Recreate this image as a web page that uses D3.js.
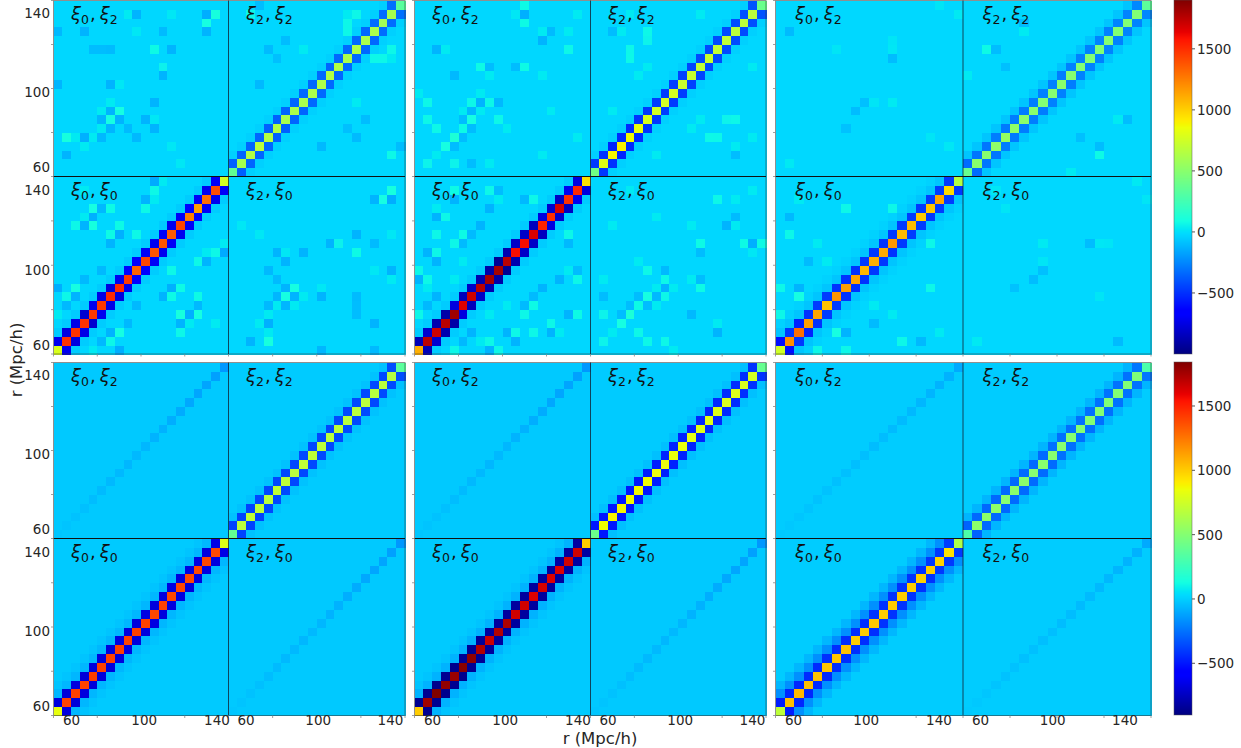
<!DOCTYPE html>
<html><head><meta charset="utf-8">
<script src="https://cdn.jsdelivr.net/npm/d3@7"></script>
<style>html,body{margin:0;padding:0;background:#fff}svg{display:block}text{font-family:"DejaVu Sans";fill:#262626}</style>
</head><body><svg id="c" width="1241" height="748"></svg>
<script>
// ---------- DATA ----------
const rTicks = [60, 100, 140];
const barTicks = [-500, 0, 500, 1000, 1500];
const topDomain = [-1000, 1900];
const botDomain = [-902, 1842];

// main diagonals, lower-left to upper-right
const d00 = [
 [780,1480,1480,1490,1470,1470,1510,1510,1470,1330,1430,1380,1380,1360,1430,1250,1150,1300,1400,760],
 [1100,1750,1700,1750,1820,1660,1700,1750,1800,1800,1750,1590,1600,1680,1540,1500,1680,1500,1520,950],
 [750,1200,1300,1150,1130,1040,1180,1150,1130,1080,1100,1120,1170,1070,1060,1020,1030,1130,970,650],
 [830,1400,1410,1400,1420,1410,1400,1410,1400,1410,1400,1390,1400,1390,1390,1380,1390,1390,1380,800],
 [1000,1760,1850,1800,1780,1820,1800,1720,1660,1720,1730,1650,1650,1620,1640,1620,1620,1650,1650,1000],
 [690,1040,1060,1040,1030,1020,1020,1030,1000,1000,1010,1000,1000,1000,1000,990,1000,980,940,640]
];
const d22 = [
 [360,600,640,680,650,640,620,620,610,620,630,640,640,620,640,620,620,580,600,330],
 [420,800,880,900,870,840,780,760,770,760,720,720,700,720,700,700,680,680,680,390],
 [380,500,500,520,540,520,510,500,480,490,500,490,480,480,470,490,480,470,470,340],
 [390,680,700,690,680,700,690,680,700,690,680,680,690,680,680,680,670,680,660,360],
 [420,860,880,880,870,870,860,850,840,830,830,820,810,810,800,790,790,780,760,400],
 [320,530,530,530,520,520,520,510,520,510,510,510,500,500,500,490,490,490,480,310]
];
// first off-diagonals
const l00 = [
 [-720,-760,-740,-800,-720,-740,-760,-720,-680,-660,-700,-720,-700,-720,-700,-640,-700,-720,-700],
 [-860,-800,-880,-900,-760,-850,-820,-880,-900,-950,-880,-820,-820,-840,-760,-800,-830,-720,-760],
 [-600,-480,-540,-500,-470,-470,-490,-490,-500,-480,-480,-490,-480,-470,-470,-480,-470,-470,-480],
 [-680,-690,-680,-690,-680,-680,-680,-670,-680,-680,-670,-680,-680,-670,-680,-670,-670,-680,-660],
 [-860,-860,-870,-860,-870,-850,-850,-840,-830,-830,-830,-830,-830,-830,-830,-830,-820,-820,-820],
 [-480,-450,-450,-440,-440,-430,-430,-430,-430,-430,-420,-420,-420,-420,-420,-420,-410,-410,-400]
];
const l22 = [
 [-360,-350,-350,-350,-360,-360,-350,-350,-340,-340,-340,-350,-340,-340,-340,-340,-330,-330,-320],
 [-480,-500,-540,-520,-520,-500,-480,-470,-470,-460,-450,-440,-430,-430,-420,-420,-420,-410,-400],
 [-330,-300,-300,-280,-290,-280,-280,-280,-270,-270,-280,-270,-270,-270,-260,-270,-260,-260,-250],
 [-380,-380,-380,-370,-370,-370,-370,-370,-370,-370,-370,-370,-360,-360,-360,-360,-360,-360,-350],
 [-500,-510,-510,-500,-490,-490,-480,-480,-470,-470,-460,-460,-450,-450,-440,-440,-430,-430,-420],
 [-290,-280,-280,-280,-270,-270,-270,-270,-270,-260,-260,-260,-260,-260,-260,-250,-250,-250,-240]
];
// second and third off-diagonal levels
const lag2of00 = [-55,-55,-75,-65,-75,-170];
const lag3of00 = [-25,-25,-40,-30,-30,-65];
const lag2of22 = [-45,-45,-75,-35,-40,-70];
// background levels
const base00 = [-25,-25,-25,-15,-15,-8];
const base22 = [-25,-25,-25,-12,-12,-8];
const base02 = [-25,-25,-22,-18,-18,-8];
// diagonal of the 0-2 block in the bottom row, lower-left to upper-right
const d02 = [
 [-25,-30,-35,-40,-50,-55,-60,-60,-65,-60,-65,-75,-80,-90,-95,-105,-110,-115,-125,-150],
 [-25,-30,-35,-40,-50,-55,-60,-60,-65,-60,-65,-75,-80,-90,-95,-105,-110,-115,-125,-150],
 [-15,-20,-25,-30,-35,-35,-40,-40,-45,-45,-50,-50,-55,-55,-60,-65,-70,-75,-80,-100]
];
// individually readable cells: [column, row from top, value]
const cells02 = [
 [[8,1,30],[9,1,-125],[13,1,20],[17,1,-140],[18,1,100],[17,2,85],[0,3,-110],[3,3,-125],[9,3,20],[12,3,-105],[17,3,-125],[4,5,-100],[5,5,-100],[6,5,-105],[11,5,75],[13,5,-125],[12,7,50],[12,8,-125],[0,9,-120],[6,9,-125],[7,9,20],[11,11,-125],[6,11,30],[5,12,30],[6,12,-125],[7,12,85],[5,13,-120],[6,13,85],[7,13,-125],[10,13,-125],[11,13,20],[5,14,30],[6,14,-120],[8,14,-105],[11,14,-125],[1,15,100],[2,15,30],[3,15,-135],[4,15,30],[5,15,-110],[9,15,-110],[3,16,30],[1,17,-125],[13,16,20],[14,18,20]],
 [[12,0,75],[12,1,-135],[11,1,20],[12,2,75],[18,1,30],[14,3,30],[15,3,-105],[17,3,30],[14,4,-125],[2,5,-125],[3,5,30],[17,5,65],[7,7,75],[8,7,-100],[12,7,75],[11,7,-100],[4,8,-110],[8,8,30],[14,8,30],[0,10,30],[7,10,30],[6,11,65],[7,11,-125],[8,11,65],[9,11,-110],[1,11,65],[5,12,30],[6,12,-110],[7,12,30],[15,12,30],[1,13,65],[5,13,-100],[6,13,85],[9,13,65],[2,14,65],[5,14,75],[6,14,-100],[10,14,30],[4,15,125],[5,15,-100],[18,15,30],[3,16,85],[4,16,-100],[2,17,30],[14,17,30],[4,18,55],[1,18,55],[8,18,30],[6,18,-100]],
 [[19,1,25],[17,0,15],[1,3,-105],[12,11,30],[10,11,15],[9,11,-90],[8,12,-100],[12,4,15],[6,5,15],[12,5,20],[12,6,-100],[1,18,25],[7,14,-85],[16,15,15],[18,16,20]],
 [],[],[]
];
const cells00 = [
 [[4,3,85],[5,3,-110],[6,3,30],[2,5,30],[3,5,-120],[4,5,75],[7,5,70],[6,6,65],[7,6,-110],[9,6,30],[4,4,-120],[3,4,30],[11,1,75],[15,1,75],[18,4,55],[19,7,30],[18,8,70],[17,8,30],[19,8,-150],[7,9,70],[16,9,70],[17,9,-125],[6,10,70],[13,10,70],[5,10,-110],[5,11,70],[3,11,-110],[0,12,-160],[2,12,70],[10,12,70],[13,12,-135],[14,12,75],[1,13,75],[2,13,-135],[9,13,70],[13,13,75],[12,13,-125],[16,13,75],[1,14,-135],[8,14,100],[0,15,30],[14,15,100],[15,15,-135],[16,15,85],[0,16,75],[14,16,-125],[18,16,30],[7,17,85],[6,17,-125],[14,17,65],[3,18,-125],[4,18,30],[5,18,-110],[6,18,65],[7,19,-140],[3,19,75],[4,19,30]],
 [[8,1,70],[9,1,-100],[9,2,30],[12,2,-125],[13,2,65],[14,2,30],[2,3,30],[8,3,-125],[2,4,-125],[3,4,65],[12,4,65],[7,5,-125],[5,6,65],[6,6,-125],[2,6,30],[4,7,55],[5,7,-110],[15,7,65],[14,7,-100],[17,7,-110],[1,8,-100],[2,8,65],[2,9,-125],[5,9,30],[0,10,65],[0,11,-125],[4,11,30],[18,11,65],[17,10,30],[2,13,-110],[3,13,65],[13,13,-105],[2,14,65],[12,14,-105],[13,14,75],[0,15,65],[2,15,-125],[12,15,65],[18,15,75],[17,15,-125],[5,16,65],[6,16,85],[4,17,-125],[5,17,75],[6,17,-125],[10,17,-125],[11,17,65],[13,17,65],[15,17,-125],[3,18,-110],[4,18,65],[5,18,-110],[8,18,70],[7,18,30],[11,18,-125],[8,19,-125],[9,19,65]],
 [[7,3,65],[12,3,65],[1,6,65],[0,12,65],[2,13,85],[0,15,65],[6,17,85],[7,17,-125],[4,19,65],[7,19,65],[2,19,-125],[10,16,-105],[16,7,65],[13,18,65],[15,18,-110],[17,17,30],[12,10,30],[10,14,30],[12,15,30],[14,8,30]],
 [[3,16,-40],[8,12,-40]],
 [[10,12,20],[7,9,10],[3,15,-70],[4,16,-55]],
 []
];
const cells22 = [
 [[13,1,30],[13,2,65],[18,5,65],[16,6,65],[18,17,70],[19,16,-100],[10,16,-110],[15,13,-100],[14,15,-105],[14,11,30],[13,14,-90]],
 [[4,5,65],[6,3,65],[2,3,-100],[3,3,30],[15,13,55],[13,15,70],[11,14,30],[2,12,30],[5,8,30],[6,7,30],[16,16,30],[18,15,30],[16,17,-100],[7,17,30],[12,1,30]],
 [[6,3,35],[2,5,65],[3,5,-100],[14,17,75],[16,13,30],[17,13,-100],[0,8,30],[14,16,-100],[12,15,-90]],
 [],[],[]
];
// ---------- LAYOUT ----------
const columns = [[53.5,228.5,405],[414.5,590.5,766],[775.5,963,1151]];
const rowsY = [[0.5,176.5,354],[362.5,538.5,715.5]];
const barRows = [[0,354,topDomain],[362,715,botDomain]];
const jet = d => {
  const r = d3.scaleLinear().domain([0,.35,.66,.89,1]).range([0,0,255,255,128]).clamp(true);
  const g = d3.scaleLinear().domain([0,.125,.375,.64,.91,1]).range([0,0,255,255,0,0]).clamp(true);
  const b = d3.scaleLinear().domain([0,.11,.34,.65,1]).range([128,255,255,0,0]).clamp(true);
  const t = d3.scaleLinear().domain(d).range([0,1]);
  return v => { const u = t(v); return `rgb(${r(u)|0},${g(u)|0},${b(u)|0})`; };
};
const svg = d3.select('#c');
const blur = svg.append('defs').append('filter').attr('id','soft')
  .attr('x','-2%').attr('y','-2%').attr('width','104%').attr('height','104%');
blur.append('feGaussianBlur').attr('stdDeviation',0.45);

function matrixFor(p){
  const m = d3.range(40).map(() => d3.range(40).map(() => 0));
  for(let i=0;i<20;i++) for(let j=0;j<20;j++){
    m[i][j] = base00[p]; m[i+20][j+20] = base22[p];
    m[i][j+20] = base02[p]; m[i+20][j] = base02[p];
  }
  const put = (list, ox, oy, mirror) => list.forEach(([c,r,v]) => {
    const j = 19-r; m[c+ox][j+oy] = v;
    if(mirror==='sym') m[j+ox][c+oy] = v;
    if(mirror==='tr') m[j+20][c] = v;
  });
  put(cells00[p],0,0,'sym'); put(cells22[p],20,20,'sym'); put(cells02[p],0,20,'tr');
  for(let i=0;i<20;i++){
    if(i<18){ m[i][i+2]=m[i+2][i]=lag2of00[p]; m[i+20][i+22]=m[i+22][i+20]=lag2of22[p]; }
    if(i<17){ m[i][i+3]=m[i+3][i]=lag3of00[p]; }
    if(i<19){ m[i][i+1]=m[i+1][i]=l00[p][i]; m[i+20][i+21]=m[i+21][i+20]=l22[p][i]; }
    m[i][i]=d00[p][i]; m[i+20][i+20]=d22[p][i];
    if(p>2){ m[i][i+20]=d02[p-3][i]; m[i+20][i]=d02[p-3][i]; }
  }
  return m;
}
const labels = [['0','2',0,0],['2','2',1,0],['0','0',0,1],['2','0',1,1]];

rowsY.forEach((ry,ri) => {
  const color = jet(barRows[ri][2]);
  columns.forEach((cx,ci) => {
    const p = ri*3+ci, m = matrixFor(p);
    const x = d3.scaleLinear().domain([0,20,40]).range([cx[0],cx[1],cx[2]]);
    const y = d3.scaleLinear().domain([0,20,40]).range([ry[2],ry[1],ry[0]]);
    const cells = [];
    m.forEach((col,i) => col.forEach((v,j) => cells.push({i,j,v})));
    svg.append('g').attr('filter','url(#soft)').attr('shape-rendering','crispEdges').selectAll('rect').data(cells).join('rect')
      .attr('x',d=>x(d.i)).attr('y',d=>y(d.j+1))
      .attr('width',d=>x(d.i+1)-x(d.i)+.5).attr('height',d=>y(d.j)-y(d.j+1)+.5)
      .attr('fill',d=>color(d.v));
    svg.append('rect').attr('x',cx[0]).attr('y',ry[0]).attr('width',cx[2]-cx[0]).attr('height',ry[2]-ry[0])
      .attr('fill','none').attr('stroke','#333').attr('stroke-opacity',.55);
    svg.append('line').attr('x1',cx[1]).attr('x2',cx[1]).attr('y1',ry[0]).attr('y2',ry[2]).attr('stroke','#123').attr('stroke-opacity',.8);
    svg.append('line').attr('x1',cx[0]).attr('x2',cx[2]).attr('y1',ry[1]).attr('y2',ry[1]).attr('stroke','#111');
    d3.range(0,41,5).forEach(k => {
      svg.append('line').attr('x1',x(k)).attr('x2',x(k)).attr('y1',ry[2]).attr('y2',ry[2]+2.5).attr('stroke','#888').attr('stroke-width',.8);
      svg.append('line').attr('x1',cx[0]).attr('x2',cx[0]-2.5).attr('y1',y(k)).attr('y2',y(k)).attr('stroke','#888').attr('stroke-width',.8);
    });
    labels.forEach(([a,b,bx,by]) => {
      const t = svg.append('text').attr('x',x(bx*20)+(ci===2?19.5:17.5)).attr('y',(by?ry[1]:ry[0])+19).attr('font-size',18).style('fill','#111');
      t.append('tspan').attr('font-style','italic').text('ξ');
      t.append('tspan').attr('font-size',12.5).attr('dy',4).text(a);
      t.append('tspan').attr('dy',-4).attr('dx',1).text(',');
      t.append('tspan').attr('font-style','italic').attr('dx',4).text('ξ');
      t.append('tspan').attr('font-size',12.5).attr('dy',4).text(b);
    });
    if(ri===1){
      [0,1].forEach(b => {
        const l = d3.scaleLinear().domain([60,140]).range([x(b*20)+(b?17.5:18),x(b*20)+(b?162:163.5)]);
        rTicks.forEach(r => svg.append('text').attr('x',l(r)).attr('y',724.5).attr('text-anchor','middle').attr('font-size',13.5).text(r));
      });
    }
    if(ci===0){
      [0,1].forEach(b => {
        const bottom = b ? ry[1] : ry[2];
        const l = d3.scaleLinear().domain(rTicks).range([bottom-4.5,bottom-79.5,bottom-159]);
        rTicks.forEach(r => svg.append('text').attr('x',50).attr('y',l(r)).attr('text-anchor','end').attr('font-size',13.5).text(r));
      });
    }
  });
  const [y0,y1,dom] = barRows[ri];
  const by = d3.scaleLinear().domain(dom).range([y1,y0]);
  svg.append('g').attr('shape-rendering','crispEdges').selectAll('rect').data(d3.range(y0,y1)).join('rect')
    .attr('x',1174).attr('width',18).attr('y',d=>d).attr('height',1.2).attr('fill',d=>color(by.invert(d+.5)));
  svg.append('rect').attr('x',1174).attr('y',y0).attr('width',18).attr('height',y1-y0).attr('fill','none').attr('stroke','#555').attr('stroke-opacity',.6).attr('stroke-width',.8);
  barTicks.forEach(v => {
    svg.append('line').attr('x1',1192).attr('x2',1195).attr('y1',by(v)).attr('y2',by(v)).attr('stroke','#555');
    svg.append('text').attr('x',1197).attr('y',by(v)+5).attr('font-size',13.5).text(String(v).replace('-','\u2212'));
  });
});
svg.append('text').attr('x',600).attr('y',743.5).attr('text-anchor','middle').attr('font-size',16.5).text('r (Mpc/h)');
svg.append('text').attr('transform','translate(22,360) rotate(-90)').attr('text-anchor','middle').attr('font-size',16.5).text('r (Mpc/h)');
</script></body></html>
